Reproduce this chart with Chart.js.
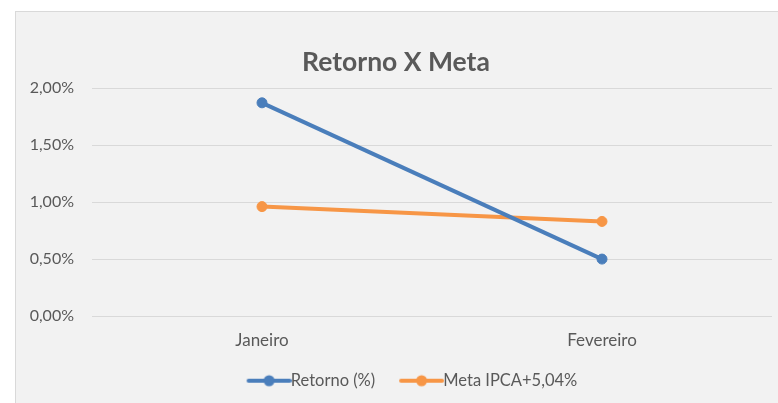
<!DOCTYPE html>
<html>
<head>
<meta charset="utf-8">
<script src="https://cdn.jsdelivr.net/npm/chart.js@4/dist/chart.umd.min.js"></script>
<style>
  html, body { margin: 0; padding: 0; background: #ffffff; overflow: hidden; }
  #frame {
    position: absolute; left: 15px; top: 11px; width: 780px; height: 400px;
    background: #f2f2f2; border: 1px solid #d9d9d9;
  }
  #chart { position: absolute; left: 0; top: 0; }
</style>
</head>
<body>
<div id="frame"><canvas id="chart" width="762" height="391"></canvas></div>
<script>
'use strict';

const months = ['Janeiro', 'Fevereiro'];
const retorno = [1.87, 0.50];
const meta = [0.96, 0.83];
const yTicks = [0, 0.5, 1, 1.5, 2];

const FONT = 'Lato, "Open Sans", sans-serif';
const GREY = '#595959';
const BLUE = '#4a7ebb';
const ORANGE = '#f79646';

const pct = (v) => v.toFixed(2).replace('.', ',') + '%';

// legend marker: line with a dot, drawn right of the legend box centre
function legendIcon(color) {
  const c = document.createElement('canvas');
  c.width = 70; c.height = 14;
  const g = c.getContext('2d');
  g.strokeStyle = color; g.lineWidth = 4; g.lineCap = 'round';
  g.beginPath(); g.moveTo(27, 7); g.lineTo(68, 7); g.stroke();
  g.fillStyle = color;
  g.beginPath(); g.arc(47.5, 7, 5.5, 0, Math.PI * 2); g.fill();
  return c;
}

const icons = [legendIcon(BLUE), legendIcon(ORANGE)];

// excel puts the legend slightly right of centre
const nudgeLegend = {
  id: 'nudgeLegend',
  afterLayout(chart) { chart.legend.left += 8; chart.legend.right += 8; }
};

new Chart(document.getElementById('chart').getContext('2d'), {
  type: 'line',
  data: {
    labels: months,
    datasets: [
      { label: 'Retorno (%)', data: retorno, borderColor: BLUE, backgroundColor: BLUE,
        borderWidth: 4, pointRadius: 5, pointBorderWidth: 1, pointHoverRadius: 5, tension: 0 },
      { label: 'Meta IPCA+5,04%', data: meta, borderColor: ORANGE, backgroundColor: ORANGE,
        borderWidth: 4, pointRadius: 5, pointBorderWidth: 1, pointHoverRadius: 5, tension: 0 }
    ]
  },
  plugins: [nudgeLegend],
  options: {
    responsive: false,
    animation: false,
    layout: { padding: { left: 0, right: 2, top: 0, bottom: 4 } },
    plugins: {
      tooltip: { enabled: false },
      title: {
        display: true, text: 'Retorno X Meta', color: GREY,
        font: { family: FONT, size: 26.5, weight: 'bold' },
        padding: { top: 34.6, bottom: 9.6 }
      },
      legend: {
        position: 'bottom',
        labels: {
          color: GREY, font: { family: FONT, size: 16.5 }, padding: 8,
          usePointStyle: true, pointStyleWidth: 51.75, boxHeight: 13,
          generateLabels: (chart) => chart.data.datasets.map((d, i) => ({
            text: d.label, pointStyle: icons[i], fontColor: GREY,
            datasetIndex: i, lineWidth: 0, strokeStyle: 'transparent', fillStyle: 'transparent'
          }))
        }
      }
    },
    scales: {
      x: {
        offset: true,
        grid: { display: false, drawTicks: false },
        border: { display: false },
        ticks: { color: GREY, font: { family: FONT, size: 17 }, padding: 14 }
      },
      y: {
        min: 0, max: 2,
        afterBuildTicks: (s) => { s.ticks = yTicks.map((v) => ({ value: v })); },
        afterFit: (s) => { s.width = 76; },
        grid: { color: '#d9d9d9', lineWidth: 1, drawTicks: false },
        border: { display: false },
        ticks: { color: GREY, font: { family: FONT, size: 16 }, padding: 18, callback: (v) => pct(v) }
      }
    }
  }
});
</script>
</body>
</html>
